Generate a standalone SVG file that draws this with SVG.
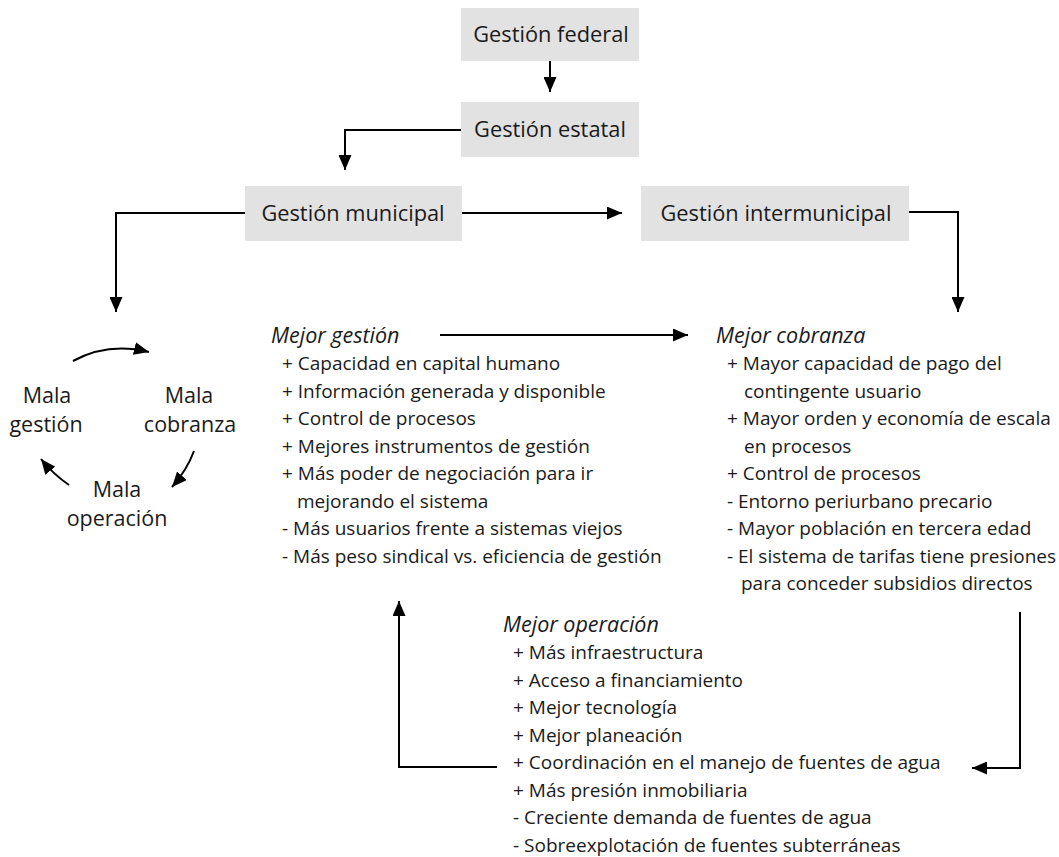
<svg xmlns="http://www.w3.org/2000/svg" width="1059" height="857" viewBox="0 0 1059 857">
<style>
text{font-family:"Open Sans","Noto Sans","Liberation Sans",sans-serif;fill:#1a1a1a}
.box{fill:#e2e2e2}
.bt{font-size:21.8px;text-anchor:middle}
.li{font-size:19px}
.hd{font-size:21.5px;font-style:italic}
.ml{font-size:21.5px;text-anchor:middle}
.cn{fill:none;stroke:#000;stroke-width:2}
</style>
<defs>
<marker id="ah" markerUnits="userSpaceOnUse" markerWidth="15" markerHeight="13" refX="15" refY="6.5" orient="auto">
<path d="M0,0 L15,6.5 L0,13 z" fill="#000"/>
</marker>
</defs>
<rect width="1059" height="857" fill="#fff"/>
<g id="connectors">
<path class="cn" d="M550,61 V92" marker-end="url(#ah)"/>
<path class="cn" d="M461,130 H345 V170" marker-end="url(#ah)"/>
<path class="cn" d="M462,213 H622" marker-end="url(#ah)"/>
<path class="cn" d="M909,212 H958 V312" marker-end="url(#ah)"/>
<path class="cn" d="M245,213 H116 V312" marker-end="url(#ah)"/>
<path class="cn" d="M440,335 H688" marker-end="url(#ah)"/>
<path class="cn" d="M497,767 H399 V601" marker-end="url(#ah)"/>
<path class="cn" d="M1020,612 V768 H972" marker-end="url(#ah)"/>
<path class="cn" stroke-width="1.5" d="M73,361 Q108,342 149,352" marker-end="url(#ah)"/>
<path class="cn" stroke-width="1.5" d="M194,451 Q187,470 172,487" marker-end="url(#ah)"/>
<path class="cn" stroke-width="1.5" d="M69,485 Q53,474 41,459" marker-end="url(#ah)"/>
</g>
<g id="federal"><rect class="box" x="461" y="8" width="178" height="53"/><text class="bt" x="551" y="42">Gestión federal</text></g>
<g id="estatal"><rect class="box" x="461" y="102" width="178" height="55"/><text class="bt" x="550" y="137">Gestión estatal</text></g>
<g id="municipal"><rect class="box" x="245" y="186" width="217" height="55"/><text class="bt" x="353" y="221">Gestión municipal</text></g>
<g id="intermunicipal"><rect class="box" x="641" y="186" width="268" height="55"/><text class="bt" x="776" y="221">Gestión intermunicipal</text></g>
<g id="mala-gestion"><text class="ml" x="47" y="403">Mala</text><text class="ml" x="46" y="432">gestión</text></g>
<g id="mala-cobranza"><text class="ml" x="189" y="403">Mala</text><text class="ml" x="190" y="432">cobranza</text></g>
<g id="mala-operacion"><text class="ml" x="117" y="497">Mala</text><text class="ml" x="117" y="526">operación</text></g>
<g id="mejor-gestion">
<text class="hd" x="271" y="343">Mejor gestión</text>
<text class="li" x="282" y="370">+ Capacidad en capital humano</text>
<text class="li" x="282" y="397.5">+ Información generada y disponible</text>
<text class="li" x="282" y="425">+ Control de procesos</text>
<text class="li" x="282" y="452.5">+ Mejores instrumentos de gestión</text>
<text class="li" x="282" y="480">+ Más poder de negociación para ir</text>
<text class="li" x="297" y="507.5">mejorando el sistema</text>
<text class="li" x="282" y="535">- Más usuarios frente a sistemas viejos</text>
<text class="li" x="282" y="562.5">- Más peso sindical vs. eficiencia de gestión</text>
</g>
<g id="mejor-cobranza">
<text class="hd" x="716" y="343">Mejor cobranza</text>
<text class="li" x="727" y="370">+ Mayor capacidad de pago del</text>
<text class="li" x="744" y="397.5">contingente usuario</text>
<text class="li" x="727" y="425">+ Mayor orden y economía de escala</text>
<text class="li" x="744" y="452.5">en procesos</text>
<text class="li" x="727" y="480">+ Control de procesos</text>
<text class="li" x="727" y="507.5">- Entorno periurbano precario</text>
<text class="li" x="727" y="535">- Mayor población en tercera edad</text>
<text class="li" x="727" y="562.5">- El sistema de tarifas tiene presiones</text>
<text class="li" x="741" y="590">para conceder subsidios directos</text>
</g>
<g id="mejor-operacion">
<text class="hd" x="503" y="631.5">Mejor operación</text>
<text class="li" x="513" y="659">+ Más infraestructura</text>
<text class="li" x="513" y="686.5">+ Acceso a financiamiento</text>
<text class="li" x="513" y="714">+ Mejor tecnología</text>
<text class="li" x="513" y="741.5">+ Mejor planeación</text>
<text class="li" x="513" y="769">+ Coordinación en el manejo de fuentes de agua</text>
<text class="li" x="513" y="796.5">+ Más presión inmobiliaria</text>
<text class="li" x="513" y="824">- Creciente demanda de fuentes de agua</text>
<text class="li" x="513" y="851.5">- Sobreexplotación de fuentes subterráneas</text>
</g>
</svg>
